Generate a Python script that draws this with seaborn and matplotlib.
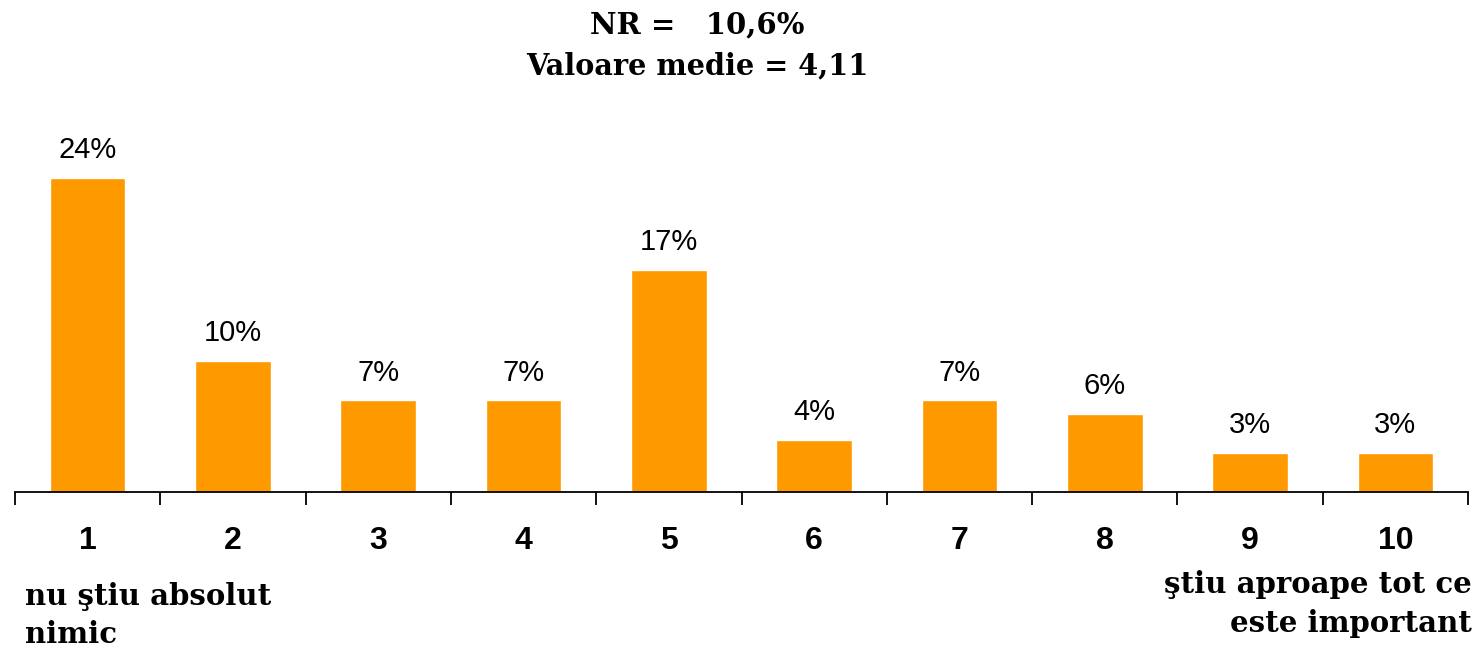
import matplotlib
matplotlib.use("Agg")
import matplotlib.pyplot as plt
import seaborn as sns
import pandas as pd
import numpy as np

categories = ["1", "2", "3", "4", "5", "6", "7", "8", "9", "10"]
values = [24, 10, 7, 7, 17, 4, 7, 6, 3, 3]
value_labels = ["24%", "10%", "7%", "7%", "17%", "4%", "7%", "6%", "3%", "3%"]
title_lines = ["NR =   10,6%", "Valoare medie = 4,11"]
left_note = "nu ştiu absolut\nnimic"
right_note = "ştiu aproape tot ce\neste important"

sns.set_style("white")
plt.rcParams['font.family'] = ['Liberation Sans', 'DejaVu Sans']
plt.rcParams['text.color'] = 'black'
plt.rcParams['xtick.color'] = 'black'
plt.rcParams['xtick.labelcolor'] = 'black'

W, H = 1477, 648
fig = plt.figure(figsize=(W / 100, H / 100), dpi=100)
ax = fig.add_axes([15 / W, (H - 492) / H, (1468 - 15) / W, 366.3 / H])

df = pd.DataFrame({"cat": categories, "val": values})
sns.barplot(data=df, x="cat", y="val", color="#FF9900", width=0.52,
            saturation=1, ax=ax, order=categories)

ax.set_xlim(-0.5, 9.5)
ax.set_ylim(0, 28)
for s in ["left", "right", "top"]:
    ax.spines[s].set_visible(False)
ax.spines["bottom"].set_color("black")
ax.spines["bottom"].set_linewidth(1.3)
ax.set_yticks([])
ax.set_xlabel("")
ax.set_ylabel("")

ax.set_xticks(np.arange(len(categories)))
ax.set_xticklabels(categories, fontsize=23, fontweight="bold", color="black")
ax.tick_params(axis="x", which="major", bottom=True, length=0, pad=24.5)
ax.set_xticks(np.arange(len(categories) + 1) - 0.5, minor=True)
ax.tick_params(axis="x", which="minor", bottom=True, length=9, width=1.3,
               direction="out", color="black")

for i, (v, lab) in enumerate(zip(values, value_labels)):
    ax.annotate(lab, (i, v), xytext=(0, 10), textcoords="offset points",
                ha="center", va="bottom", fontsize=21, color="black")

serif = ['DejaVu Serif']
fig.text(697 / W, 1 - 25 / H, title_lines[0], ha="center", va="center",
         fontsize=21, fontweight="bold", family=serif, color="black")
fig.text(697 / W, 1 - 66 / H, title_lines[1], ha="center", va="center",
         fontsize=20.7, fontweight="bold", family=serif, color="black")

fig.text(25 / W, 1 - 582 / H, left_note, ha="left", va="top",
         fontsize=21, fontweight="bold", family=serif, linespacing=1.38,
         color="black")
fig.text(1472 / W, 1 - 570 / H, right_note, ha="right", va="top",
         fontsize=21, fontweight="bold", family=serif, linespacing=1.45,
         multialignment="right", color="black")

fig.savefig("out.png", dpi=100)
